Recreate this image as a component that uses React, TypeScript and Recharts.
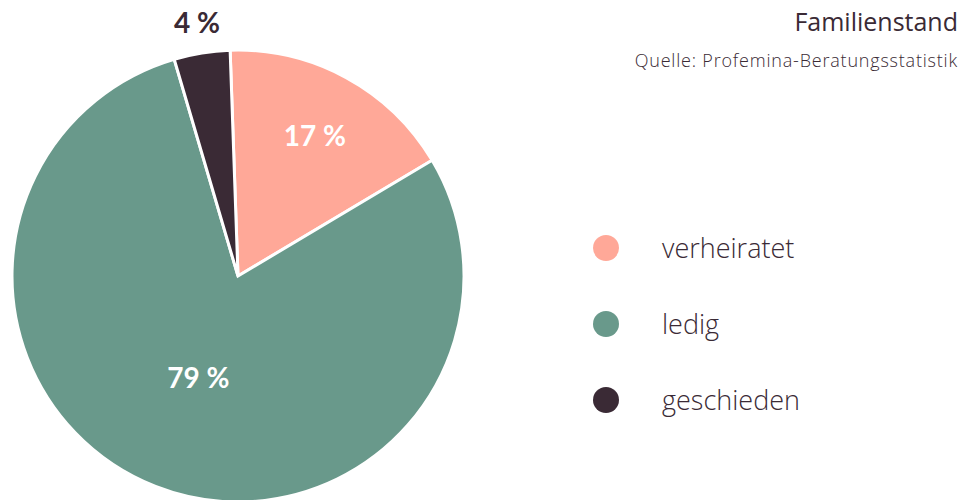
import { PieChart, Pie, Cell } from 'recharts';

const categories = ['verheiratet', 'ledig', 'geschieden'];
const shares = [17, 79, 4];
const colors = ['#FFA898', '#69998B', '#3A2A35'];

const data = categories.map((name, i) => ({ name, value: shares[i] }));

const RADIAN = Math.PI / 180;
const labelFont = 'Lato, "Open Sans", sans-serif';
const textFont = '"Open Sans", Lato, sans-serif';

function renderLabel(props: any) {
  const { cx, cy, midAngle, outerRadius, percent, value } = props;
  let r = outerRadius * 0.71;
  let fill = '#fff';
  if (percent < 0.05) {
    r = outerRadius + 31;
    fill = '#3A2A35';
  } else if (percent > 0.5) {
    r = outerRadius * 0.48;
  }
  const x = cx + r * Math.cos(-midAngle * RADIAN);
  const y = cy + r * Math.sin(-midAngle * RADIAN);
  return (
    <text x={x} y={y} fill={fill} textAnchor="middle" dominantBaseline="central"
      style={{ fontFamily: labelFont, fontSize: 28, fontWeight: 700 }}>
      {`${value} %`}
    </text>
  );
}

export default function App() {
  return (
    <div style={{ position: 'absolute', left: 0, top: 0, width: 966, height: 500, overflow: 'hidden', background: '#fff' }}>
      <PieChart width={966} height={500} margin={{ top: 0, right: 0, bottom: 0, left: 0 }}>
        <Pie data={data} dataKey="value" nameKey="name" cx={238} cy={276} outerRadius={226}
          startAngle={92} endAngle={-268} stroke="#fff" strokeWidth={3}
          label={renderLabel} labelLine={false} isAnimationActive={false}>
          {data.map((d, i) => <Cell key={d.name} fill={colors[i]} />)}
        </Pie>
      </PieChart>
      <div style={{ position: 'absolute', left: 592, top: 210, fontFamily: textFont }}>
        {categories.map((name, i) => (
          <div key={name} style={{ display: 'flex', alignItems: 'center', height: 76 }}>
            <svg width={28} height={28}>
              <circle cx={14} cy={14} r={13} fill={colors[i]} />
            </svg>
            <span style={{ marginLeft: 42, fontSize: 27, fontWeight: 300, color: '#3A2A35', lineHeight: '28px' }}>{name}</span>
          </div>
        ))}
      </div>
      <div style={{ position: 'absolute', right: 8, top: 5, textAlign: 'right', fontFamily: textFont, color: '#3A2A35' }}>
        <div style={{ fontSize: 25, fontWeight: 500, lineHeight: '32px' }}>Familienstand</div>
        <div style={{ fontSize: 18, fontWeight: 300, marginTop: 11, letterSpacing: 0.8 }}>Quelle: Profemina-Beratungsstatistik</div>
      </div>
    </div>
  );
}
